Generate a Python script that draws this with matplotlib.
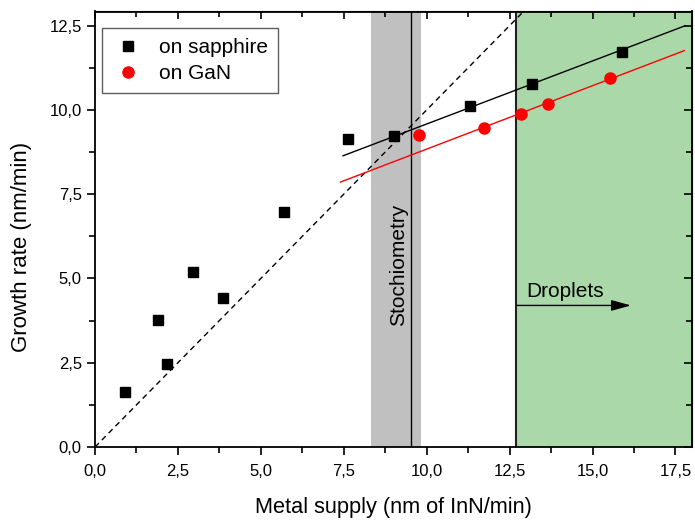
import matplotlib
matplotlib.use("Agg")
import matplotlib.pyplot as plt
from matplotlib.ticker import MultipleLocator, FuncFormatter

plt.rcParams['font.family'] = ['Liberation Sans', 'DejaVu Sans']

# Data
sapphire_x = [0.91, 1.91, 2.18, 2.95, 3.87, 5.71, 7.62, 9.01, 11.31, 13.17, 15.89]
sapphire_y = [1.63, 3.76, 2.46, 5.18, 4.41, 6.96, 9.13, 9.22, 10.13, 10.76, 11.73]
gan_x = [9.77, 11.73, 12.84, 13.65, 15.54]
gan_y = [9.26, 9.47, 9.89, 10.19, 10.95]
fit_sapphire_x = [7.48, 17.80]
fit_sapphire_y = [8.64, 12.50]
fit_gan_x = [7.40, 17.77]
fit_gan_y = [7.86, 11.76]
ideal_x = [0.0, 13.5]
ideal_y = [0.0, 13.5]
stoich_band = [8.31, 9.84]
stoich_line = 9.52
droplet_start = 12.69
x_max = 18.0
y_max = 12.92

fig = plt.figure(figsize=(6.95, 5.2), dpi=100)
ax = fig.add_axes([95/695, 1 - 447/520, 597/695, 435.5/520])

ax.axvspan(stoich_band[0], stoich_band[1], color='#c0c0c0', lw=0, zorder=0)
ax.axvspan(droplet_start, x_max, color='#aad8a8', lw=0, zorder=0)
ax.axvline(stoich_line, color='black', lw=1.0, zorder=1)
ax.axvline(droplet_start, color='#222222', lw=1.5, zorder=1)

ax.plot(ideal_x, ideal_y, color='black', lw=1.0, ls=(0, (4, 3)), zorder=2)
ax.plot(fit_sapphire_x, fit_sapphire_y, color='black', lw=1.0, zorder=2)
ax.plot(fit_gan_x, fit_gan_y, color='red', lw=1.0, zorder=2)

ax.plot(sapphire_x, sapphire_y, 's', color='black', ms=7, ls='none',
        label='on sapphire', zorder=3)
ax.plot(gan_x, gan_y, 'o', color='red', ms=8, ls='none', label='on GaN', zorder=3)

ax.text(9.14, 5.39, 'Stochiometry', rotation=90, ha='center', va='center',
        fontsize=15)
ax.text(13.01, 4.62, 'Droplets', ha='left', va='center', fontsize=15)
ax.annotate('', xy=(16.16, 4.2), xytext=(droplet_start, 4.2),
            arrowprops=dict(arrowstyle='-|>,head_length=0.8,head_width=0.22',
                            color='black', lw=1.0, mutation_scale=15,
                            shrinkA=0, shrinkB=0))

ax.set_xlim(0, x_max)
ax.set_ylim(0, y_max)

fmt = FuncFormatter(lambda v, p: f"{v:.1f}".replace('.', ','))
ax.xaxis.set_major_locator(MultipleLocator(2.5))
ax.xaxis.set_minor_locator(MultipleLocator(1.25))
ax.yaxis.set_major_locator(MultipleLocator(2.5))
ax.yaxis.set_minor_locator(MultipleLocator(1.25))
ax.xaxis.set_major_formatter(fmt)
ax.yaxis.set_major_formatter(fmt)
ax.tick_params(which='major', direction='out', length=6, width=1.2, labelsize=12)
ax.tick_params(axis='x', which='major', pad=6)
ax.tick_params(which='minor', direction='out', length=4, width=1.2)

for s in ax.spines.values():
    s.set_linewidth(1.3)

secx = ax.secondary_xaxis('top')
secx.xaxis.set_major_locator(MultipleLocator(2.5))
secx.xaxis.set_minor_locator(MultipleLocator(1.25))
secx.tick_params(which='major', direction='in', length=6, width=1.2, labeltop=False)
secx.tick_params(which='minor', direction='in', length=4, width=1.2)
secy = ax.secondary_yaxis('right')
secy.yaxis.set_major_locator(MultipleLocator(2.5))
secy.yaxis.set_minor_locator(MultipleLocator(1.25))
secy.tick_params(which='major', direction='in', length=6, width=1.2, labelright=False)
secy.tick_params(which='minor', direction='in', length=4, width=1.2)

ax.set_xlabel('Metal supply (nm of InN/min)', fontsize=15.7, labelpad=13)
ax.set_ylabel('Growth rate (nm/min)', fontsize=16)
ax.yaxis.set_label_coords(-0.105, 0.46)

leg = ax.legend(loc='upper left', bbox_to_anchor=(0.0117, 0.961), borderaxespad=0,
                fontsize=15, frameon=True, fancybox=False, edgecolor='#333333',
                handletextpad=0.7, borderpad=0.45, labelspacing=0.35,
                handlelength=1.6)
leg.get_frame().set_linewidth(1.0)

fig.savefig('out.png', dpi=100)
